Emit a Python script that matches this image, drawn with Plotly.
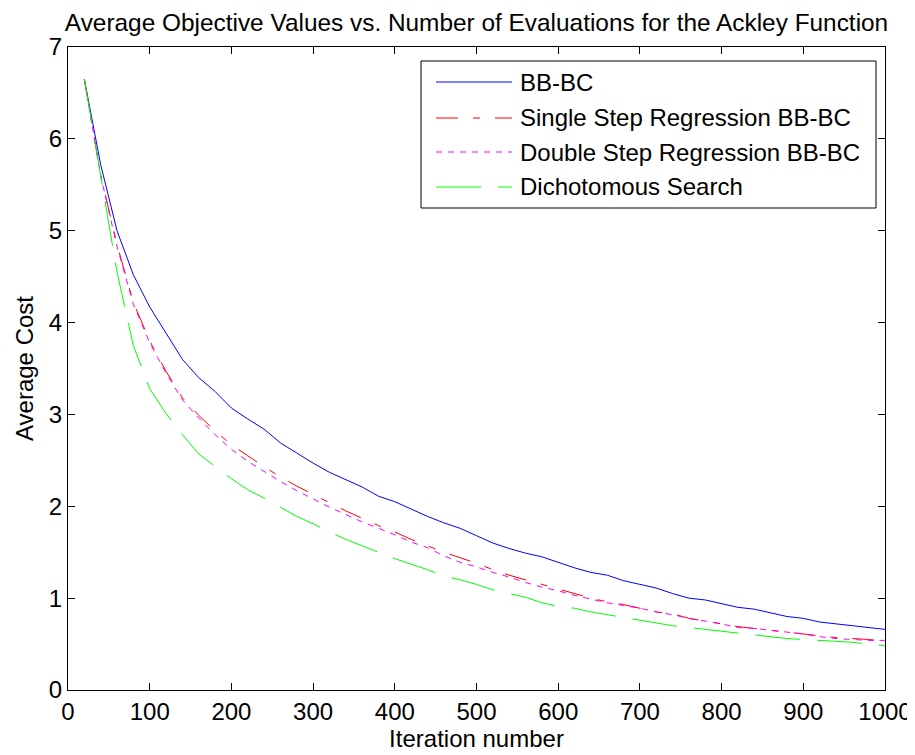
import plotly.graph_objects as go

# ---------------- data ----------------
iterations = list(range(20, 1001, 20))

bbbc = [6.65, 5.72, 5.00, 4.52, 4.17, 3.89, 3.60, 3.40, 3.25, 3.07,
        2.95, 2.84, 2.69, 2.58, 2.47, 2.37, 2.29, 2.21, 2.11, 2.05,
        1.97, 1.89, 1.82, 1.76, 1.68, 1.60, 1.54, 1.49, 1.45, 1.39,
        1.33, 1.28, 1.25, 1.19, 1.15, 1.11, 1.05, 1.00, 0.98, 0.94,
        0.90, 0.88, 0.84, 0.80, 0.78, 0.74, 0.72, 0.70, 0.68, 0.66]

single_step = [6.65, 5.60, 4.85, 4.22, 3.80, 3.47, 3.18, 2.99, 2.82, 2.67,
               2.55, 2.43, 2.32, 2.22, 2.13, 2.04, 1.95, 1.87, 1.79, 1.72,
               1.64, 1.57, 1.50, 1.44, 1.38, 1.31, 1.25, 1.20, 1.15, 1.10,
               1.05, 1.00, 0.96, 0.93, 0.89, 0.85, 0.83, 0.78, 0.75, 0.72,
               0.69, 0.67, 0.65, 0.63, 0.61, 0.59, 0.57, 0.56, 0.55, 0.53]

double_step = [6.65, 5.60, 4.83, 4.20, 3.78, 3.45, 3.16, 2.96, 2.78, 2.62,
               2.49, 2.38, 2.27, 2.17, 2.08, 1.99, 1.91, 1.83, 1.76, 1.69,
               1.61, 1.55, 1.46, 1.39, 1.34, 1.28, 1.23, 1.17, 1.12, 1.08,
               1.03, 0.99, 0.95, 0.92, 0.89, 0.85, 0.82, 0.78, 0.75, 0.72,
               0.68, 0.67, 0.65, 0.63, 0.61, 0.58, 0.56, 0.55, 0.54, 0.54]

dichotomous = [6.65, 5.62, 4.55, 3.75, 3.28, 3.01, 2.78, 2.57, 2.43, 2.30,
               2.18, 2.09, 1.99, 1.89, 1.81, 1.72, 1.64, 1.57, 1.50, 1.43,
               1.37, 1.31, 1.24, 1.20, 1.15, 1.09, 1.05, 1.01, 0.95, 0.91,
               0.89, 0.85, 0.82, 0.79, 0.76, 0.73, 0.70, 0.68, 0.66, 0.64,
               0.62, 0.60, 0.58, 0.56, 0.55, 0.54, 0.53, 0.52, 0.50, 0.48]

series_names = ["BB-BC", "Single Step Regression BB-BC",
                "Double Step Regression BB-BC", "Dichotomous Search"]
series_values = [bbbc, single_step, double_step, dichotomous]

x_ticks = list(range(0, 1001, 100))
y_ticks = list(range(0, 8))

# ---------------- styles ----------------
colors = ["#0000FF", "#FF0000", "#FF00FF", "#00FF00"]
dashes = ["solid", "22px,15px,7px,15px", "6px,6px", "45px,17px"]
FONT = "Liberation Sans, Arial, Helvetica, sans-serif"
FS = 24

OFF = 8  # default page body margin in the browser
W, H = 915 - OFF, 755 - OFF
L, R, T, B = 68 - OFF, 30, 47 - OFF, 65
PW, PH = W - L - R, H - T - B


def px_x(p):
    # p given in window pixels
    return (p - OFF - L) / PW


def px_y(p):
    return (H - B - (p - OFF)) / PH


fig = go.Figure()
for name, vals, c, d in zip(series_names, series_values, colors, dashes):
    fig.add_trace(go.Scatter(x=iterations, y=vals, mode="lines", name=name,
                             line=dict(color=c, width=1, dash=d),
                             showlegend=False))

# ---------------- manual legend (MATLAB style) ----------------
shapes = [dict(type="rect", xref="paper", yref="paper",
               x0=px_x(421), x1=px_x(876), y0=px_y(208), y1=px_y(61),
               line=dict(color="black", width=1), fillcolor="white",
               layer="above")]
annotations = []
rows = [82, 118, 152, 187]
for name, c, d, ry in zip(series_names, colors, dashes, rows):
    shapes.append(dict(type="line", xref="paper", yref="paper",
                       x0=px_x(436), x1=px_x(512), y0=px_y(ry), y1=px_y(ry),
                       line=dict(color=c, width=1, dash=d), layer="above"))
    annotations.append(dict(xref="paper", yref="paper", x=px_x(518), y=px_y(ry),
                            xanchor="left", yanchor="middle", showarrow=False,
                            text=name, font=dict(family=FONT, size=FS, color="black")))

axis_common = dict(showline=True, linecolor="black", linewidth=1, mirror="ticks",
                   ticks="inside", ticklen=7, tickcolor="black", tickwidth=1,
                   showgrid=False, zeroline=False,
                   tickfont=dict(family=FONT, size=FS, color="black"))

fig.update_layout(
    width=W, height=H,
    margin=dict(l=L, r=R, t=T, b=B, autoexpand=False),
    paper_bgcolor="white", plot_bgcolor="white",
    font=dict(family=FONT, size=FS, color="black"),
    title=dict(text="Average Objective Values vs. Number of Evaluations for the Ackley Function",
               x=0.5, xref="paper", xanchor="center",
               y=1 - (22 - OFF) / H, yref="container", yanchor="middle",
               font=dict(family=FONT, size=24.4, color="black")),
    xaxis=dict(range=[0, 1000], tickvals=x_ticks, ticktext=[str(v) for v in x_ticks],
               title=dict(text="Iteration number", font=dict(family=FONT, size=FS), standoff=4),
               automargin=False, **axis_common),
    yaxis=dict(range=[0, 7], tickvals=y_ticks, ticktext=[str(v) for v in y_ticks],
               title=dict(text="Average Cost", font=dict(family=FONT, size=FS), standoff=8),
               automargin=False, **axis_common),
    shapes=shapes,
    annotations=annotations,
    showlegend=False,
)

fig.write_html("out.html")
